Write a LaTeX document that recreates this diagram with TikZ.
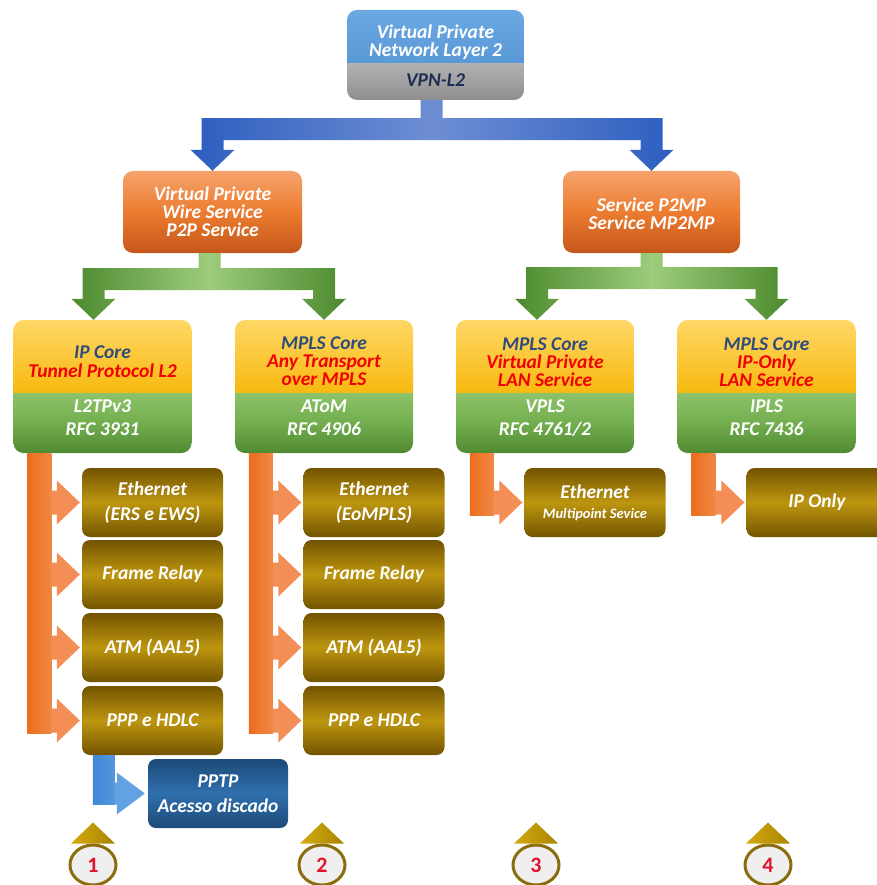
\documentclass[tikz,border=0pt]{standalone}
\usepackage{fontspec}
\setmainfont{Carlito}
\usetikzlibrary{calc,shapes.geometric}

\definecolor{vpnA}{HTML}{6AA8E2}
\definecolor{vpnB}{HTML}{4F8FD0}
\definecolor{gryA}{HTML}{B2B2B2}
\definecolor{gryB}{HTML}{8E8E8E}
\definecolor{orgL}{HTML}{F5A36B}
\definecolor{orgM}{HTML}{EC7C30}
\definecolor{orgD}{HTML}{C4561A}
\definecolor{yelA}{HTML}{FFD766}
\definecolor{yelM}{HTML}{F8BC16}
\definecolor{yelB}{HTML}{D49A00}
\definecolor{gbA}{HTML}{8DC26A}
\definecolor{gbM}{HTML}{72AE4D}
\definecolor{gbB}{HTML}{508A33}
\definecolor{bluD}{HTML}{2D5EC0}
\definecolor{bluL}{HTML}{6E8ED3}
\definecolor{grnD}{HTML}{4C8A2E}
\definecolor{grnL}{HTML}{9DCC7C}
\definecolor{orA}{HTML}{EB6D1D}
\definecolor{orB}{HTML}{F08845}
\definecolor{orH}{HTML}{F38F56}
\definecolor{brD}{HTML}{735400}
\definecolor{brL}{HTML}{BD960F}
\definecolor{ppD}{HTML}{1D4A78}
\definecolor{ppL}{HTML}{2F6FAE}
\definecolor{blA}{HTML}{3F86D6}
\definecolor{blB}{HTML}{5597DD}
\definecolor{blH}{HTML}{62A2E2}
\definecolor{gdA}{HTML}{D4AA10}
\definecolor{gdB}{HTML}{A88400}
\definecolor{mkB}{HTML}{8C6D0E}
\definecolor{mkF}{HTML}{EFEFEF}
\definecolor{mkR}{HTML}{E3132D}
\definecolor{navT}{HTML}{2E4C7C}
\definecolor{navD}{HTML}{1F2D55}
\definecolor{redT}{HTML}{F20000}

% T-shaped block arrow: source, source x-shift, left target, left x-shift,
% right target, stem length, shading options
\newcommand\blockT[7]{%
  \shade[#7] let \p1=($(#1.south)+(#2,0)$), \p2=($(#3.north)+(#4,0)$), \p3=(#5.north) in
  (\x1-11pt,\y1) -- (\x1+11pt,\y1) -- (\x1+11pt,\y1-#6) -- (\x3+11pt,\y1-#6)
  -- (\x3+11pt,\y3+21pt) -- (\x3+22pt,\y3+21pt) -- (\x3,\y3) -- (\x3-22pt,\y3+21pt)
  -- (\x3-11pt,\y3+21pt) -- (\x3-11pt,\y1-#6-22pt) -- (\x2+11pt,\y1-#6-22pt)
  -- (\x2+11pt,\y2+21pt) -- (\x2+22pt,\y2+21pt) -- (\x2,\y2) -- (\x2-22pt,\y2+21pt)
  -- (\x2-11pt,\y2+21pt) -- (\x2-11pt,\y1-#6) -- (\x1-11pt,\y1-#6) -- cycle;}
% vertical bar of an L-shaped arrow under a parent box, down to its last child
\newcommand\lbar[2]{%
  \shade[left color=orA,right color=orB] let \p1=(#1.south west), \p2=(#2.west) in
  (\x1+14pt,\y1) rectangle (\x1+38pt,\y2-13pt);}
% branch head of an L-shaped arrow pointing at a child box
\newcommand\lhead[2]{%
  \fill[orH] let \p1=(#1.south west), \p2=(#2.west) in
  (\x1+38pt,\y2+12pt) -- (\x2-25pt,\y2+12pt) -- (\x2-25pt,\y2+22pt) -- (\x2-2pt,\y2)
  -- (\x2-25pt,\y2-22pt) -- (\x2-25pt,\y2-12pt) -- (\x1+38pt,\y2-12pt) -- cycle;}
% gold triangle above a numbered marker
\newcommand\mktri[1]{%
  \shade[left color=gdA,right color=gdB] let \p1=(#1.north) in
  (\x1-22pt,\y1) -- (\x1,\y1+21pt) -- (\x1+22pt,\y1) -- cycle;}

\begin{document}
\begin{tikzpicture}[x=1pt,y=-1pt,
  bx/.style n args={2}{rectangle, rounded corners=10pt, inner sep=0pt,
    minimum width=#1, minimum height=#2},
  brown/.style={bx={141pt}{69pt}, rounded corners=8pt,
    top color=brD, bottom color=brD, middle color=brL},
  twotone/.style n args={3}{path picture={
    \shade[sharp corners,#2] (path picture bounding box.north east) rectangle
      ($(path picture bounding box.north west)!#1!(path picture bounding box.south west)$);
    \shade[sharp corners,#3] (path picture bounding box.south east) rectangle
      ($(path picture bounding box.north west)!#1!(path picture bounding box.south west)$);}},
  core/.style={bx={178pt}{133pt},
    twotone={0.55}{top color=yelA,bottom color=yelB,middle color=yelM}
                  {top color=gbA,bottom color=gbB,middle color=gbM}},
  txt/.style={font=\fontsize{19.5}{18}\selectfont\bfseries\itshape, align=center, inner sep=0pt},
  wtxt/.style={txt, text=white},
  marker/.style={ellipse, minimum width=46pt, minimum height=40pt, inner sep=0pt,
    draw=mkB, line width=3pt, fill=mkF, text=mkR,
    font=\fontsize{22}{22}\selectfont\bfseries}
]
\useasboundingbox (0,0) rectangle (876,885);
\fill[white] (0,0) rectangle (876,885);

% ---- level 1
\node[bx={177pt}{90pt}, twotone={0.59}{top color=vpnA,bottom color=vpnB}{top color=gryA,bottom color=gryB}] (vpn) at (435.5,55) {};
\node[wtxt] (vpnT) at (435.5,42.5) {Virtual Private\\Network Layer 2};
\node[txt, text=navD] (vpnS) at (435.5,80) {VPN-L2};

% ---- level 2
\node[bx={179pt}{82pt}, top color=orgL, bottom color=orgD, middle color=orgM] (vpws) at (212.5,212) {};
\node[wtxt] (vpwsT) at (212.5,212) {Virtual Private\\Wire Service\\P2P Service};
\node[bx={177pt}{82pt}, top color=orgL, bottom color=orgD, middle color=orgM] (mp) at (651.5,212) {};
\node[wtxt] (mpT) at (651.5,213.5) {Service P2MP\\Service MP2MP};

% ---- level 3
\node[core] (ipc) at (102.5,386.5) {};
\node[txt] (ipcT) at (102.5,362) {\textcolor{navT}{IP Core}\\[1pt]\textcolor{redT}{Tunnel Protocol L2}};
\node[wtxt] (ipcS) at (102.5,417.5) {L2TPv3\\[5pt]RFC 3931};

\node[core] (atom) at (324,386.5) {};
\node[txt] (atomT) at (324,361.5) {\textcolor{navT}{MPLS Core}\\\textcolor{redT}{Any Transport}\\\textcolor{redT}{over MPLS}};
\node[wtxt] (atomS) at (324,417.5) {AToM\\[5pt]RFC 4906};

\node[core] (vpls) at (545,386.5) {};
\node[txt] (vplsT) at (545,362) {\textcolor{navT}{MPLS Core}\\\textcolor{redT}{Virtual Private}\\\textcolor{redT}{LAN Service}};
\node[wtxt] (vplsS) at (545,418) {VPLS\\[5pt]RFC 4761/2};

\node[core] (ipls) at (766.5,386.5) {};
\node[txt] (iplsT) at (766.5,362) {\textcolor{navT}{MPLS Core}\\\textcolor{redT}{IP-Only}\\\textcolor{redT}{LAN Service}};
\node[wtxt] (iplsS) at (766.5,418) {IPLS\\[5pt]RFC 7436};

% ---- services, column 1
\node[brown] (e1) at (152.5,502.5) {};
\node[wtxt] (e1T) at (152.5,502.5) {Ethernet\\[7pt](ERS e EWS)};
\node[brown] (f1) at (152.5,574.5) {};
\node[wtxt] (f1T) at (152.5,574.5) {Frame Relay};
\node[brown] (t1) at (152.5,647.5) {};
\node[wtxt] (t1T) at (152.5,647.5) {ATM (AAL5)};
\node[brown] (h1) at (152.5,720.5) {};
\node[wtxt] (h1T) at (152.5,720.5) {PPP e HDLC};

% ---- services, column 2
\node[brown] (e2) at (374,502.5) {};
\node[wtxt] (e2T) at (374,502.5) {Ethernet\\[7pt](EoMPLS)};
\node[brown] (f2) at (374,574.5) {};
\node[wtxt] (f2T) at (374,574.5) {Frame Relay};
\node[brown] (t2) at (374,647.5) {};
\node[wtxt] (t2T) at (374,647.5) {ATM (AAL5)};
\node[brown] (h2) at (374,720.5) {};
\node[wtxt] (h2T) at (374,720.5) {PPP e HDLC};

% ---- services, columns 3 and 4
\node[brown] (e3) at (595,502.5) {};
\node[wtxt] (e3T) at (595,503) {Ethernet\\[2pt]{\fontsize{14.5}{14}\selectfont Multipoint Sevice}};
\node[brown] (ip4) at (817,502.5) {};
\node[wtxt] (ip4T) at (817,502) {IP Only};

% ---- dial-up access
\node[bx={140pt}{69pt}, rounded corners=8pt, top color=ppD, bottom color=ppD, middle color=ppL] (pptp) at (218,793.5) {};
\node[wtxt] (pptpT) at (218,794) {PPTP\\[7pt]Acesso discado};

% ---- T arrows
\blockT{vpn}{-4pt}{vpws}{0pt}{mp}{18pt}{left color=bluD,right color=bluD,middle color=bluL}
\blockT{vpws}{-3pt}{ipc}{-9pt}{atom}{15pt}{left color=grnD,right color=grnD,middle color=grnL}
\blockT{mp}{0pt}{vpls}{-8pt}{ipls}{14pt}{left color=grnD,right color=grnD,middle color=grnL}

% ---- L arrows
\lbar{ipc}{h1}
\lhead{ipc}{e1}\lhead{ipc}{f1}\lhead{ipc}{t1}\lhead{ipc}{h1}
\lbar{atom}{h2}
\lhead{atom}{e2}\lhead{atom}{f2}\lhead{atom}{t2}\lhead{atom}{h2}
\lbar{vpls}{e3}\lhead{vpls}{e3}
\lbar{ipls}{ip4}\lhead{ipls}{ip4}

\shade[left color=blA,right color=blB] let \p1=(h1.south west), \p2=(pptp.west) in
  (\x1+11pt,\y1) rectangle (\x1+33pt,\y2-11pt);
\fill[blH] let \p1=(h1.south west), \p2=(pptp.west) in
  (\x1+33pt,\y2+11pt) -- (\x2-31pt,\y2+11pt) -- (\x2-31pt,\y2+21pt) -- (\x2-3pt,\y2)
  -- (\x2-31pt,\y2-21pt) -- (\x2-31pt,\y2-11pt) -- (\x1+33pt,\y2-11pt) -- cycle;

% ---- numbered markers
\node[marker] (m1) at (93,865) {1};
\node[marker] (m2) at (322,865) {2};
\node[marker] (m3) at (536,865) {3};
\node[marker] (m4) at (768,865) {4};
\mktri{m1}\mktri{m2}\mktri{m3}\mktri{m4}
\end{tikzpicture}
\end{document}
